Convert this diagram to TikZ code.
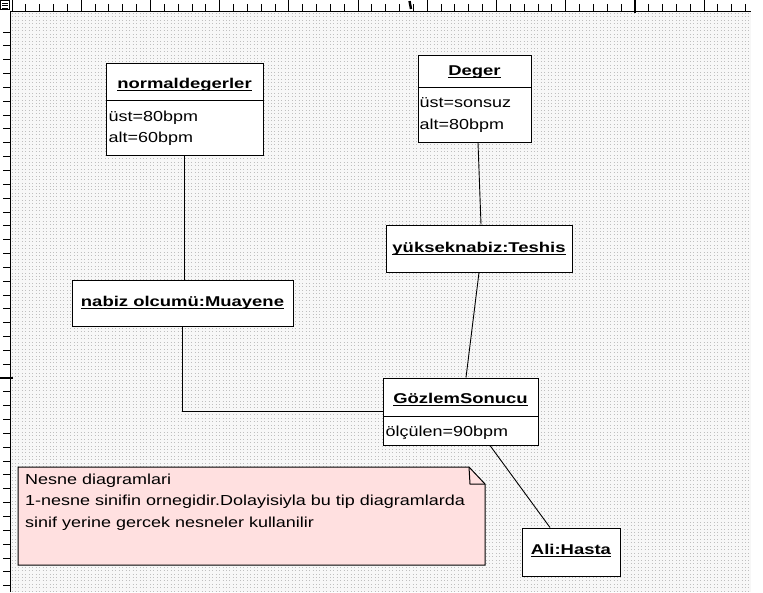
\documentclass[tikz,border=0pt]{standalone}
\usepackage{fontspec}
\setmainfont{Liberation Sans}[FakeStretch=1.24]
\newfontfamily\hdfont{Liberation Sans}[FakeStretch=1.3]
\newcommand\ulhd[1]{\setbox0\hbox{#1}\rlap{\rule[-2.6pt]{\wd0}{1.2pt}}\box0}
\definecolor{notepink}{RGB}{255,224,224}
\begin{document}
\begin{tikzpicture}[x=1pt,y=-1pt,
  objbox/.style={draw=black,line width=1pt,fill=white,inner sep=0pt},
  hd/.style={font=\hdfont\bfseries\fontsize{14.2}{16}\selectfont,inner sep=0pt},
  attr/.style={font=\fontsize{14.5}{16}\selectfont,anchor=west,inner sep=0pt},
  link/.style={draw=black,line width=0.9pt},
  divider/.style={draw=black,line width=1pt},
  rulerline/.style={draw=black,line width=0.8pt},
  dotrow/.style={draw=gray!50,line width=1pt,dash pattern=on 1pt off 2.46pt}]
\useasboundingbox (0,0) rectangle (763,592);
\fill[white] (0,0) rectangle (763,592);
% canvas with dotted grid
\fill[gray!6] (11,12) rectangle (751,592);
\foreach \i in {0,...,167} \draw[dotrow] (11.5,{13.5+\i*3.46}) -- (751,{13.5+\i*3.46});
% top ruler
\draw[rulerline] (10,11) -- (751,11);
\foreach \k in {0,...,53} \draw[rulerline] ({12+\k*13.84},4) -- ({12+\k*13.84},11);
\foreach \k in {0,...,10} \draw[rulerline] ({12+\k*69.2},0) -- ({12+\k*69.2},11);
\draw[line width=2pt] (635,0) -- (635,13);
\draw[line width=2.4pt] (409.5,1) -- (411,9);
% left ruler
\draw[rulerline] (10,11) -- (10,592);
\foreach \k in {-15,...,25} \draw[rulerline] (3,{378-\k*13.84}) -- (10,{378-\k*13.84});
\draw[line width=2pt] (0,378) -- (13,378);
% corner icon
\draw[line width=0.6pt] (0.5,0.5) rectangle (9,9.5);
\foreach \yy in {3,5.5,8} \draw[line width=0.6pt] (2,\yy) -- (7.5,\yy);

% note
\draw[fill=notepink,draw=black,line width=1pt] (18,467) -- (469,467) -- (485,484) -- (485,565) -- (18,565) -- cycle;
\draw[line width=1pt] (469,467) -- (470,484) -- (485,484);
\node[attr,align=left,anchor=north west,font=\fontsize{14.5}{21.5}\selectfont] (note) at (25,473.5)
  {Nesne diagramlari\\1-nesne sinifin ornegidir.Dolayisiyla bu tip diagramlarda\\sinif yerine gercek nesneler kullanilir};

% objects
\node[objbox,minimum width=157pt,minimum height=92pt] (nd) at (184.5,109) {};
\node[hd] (ndh) at (184.5,85) {\ulhd{normaldegerler}};
\draw[divider] (nd.west |- 0,100) -- (nd.east |- 0,100);
\node[attr] (nda) at (108.5,118) {üst=80bpm};
\node[attr] (ndb) at (108.5,139) {alt=60bpm};

\node[objbox,minimum width=113pt,minimum height=87pt] (dg) at (474.5,98.5) {};
\node[hd] (dgh) at (474.5,72) {\ulhd{Deger}};
\draw[divider] (dg.west |- 0,87) -- (dg.east |- 0,87);
\node[attr] (dga) at (419.5,103) {üst=sonsuz};
\node[attr] (dgb) at (419.5,126) {alt=80bpm};

\node[objbox,minimum width=186pt,minimum height=47pt] (ts) at (479,248.5) {};
\node[hd] (tsh) at (479,249) {\ulhd{yükseknabiz:Teshis}};

\node[objbox,minimum width=221pt,minimum height=46pt] (nm) at (182.5,303) {};
\node[hd] (nmh) at (182.5,303) {\ulhd{nabiz olcumü:Muayene}};

\node[objbox,minimum width=155pt,minimum height=67pt] (gs) at (460.5,411.5) {};
\node[hd] (gsh) at (460.5,400) {\ulhd{GözlemSonucu}};
\draw[divider] (gs.west |- 0,416) -- (gs.east |- 0,416);
\node[attr] (gsa) at (385.5,433) {ölçülen=90bpm};

\node[objbox,minimum width=98pt,minimum height=48pt] (ah) at (571,552) {};
\node[hd] (ahh) at (571,551) {\ulhd{Ali:Hasta}};

% links
\draw[link] (nd.south) -- (nd.south |- nm.north);
\draw[link] (nm.south) |- (gs.west);
\draw[link] ([xshift=3.5pt]dg.south) -- ([xshift=2pt]ts.north);
\draw[link] (ts.south) -- ([xshift=5.5pt]gs.north);
\draw[link] ([xshift=29.5pt]gs.south) -- ([xshift=-21pt]ah.north);
\end{tikzpicture}
\end{document}
